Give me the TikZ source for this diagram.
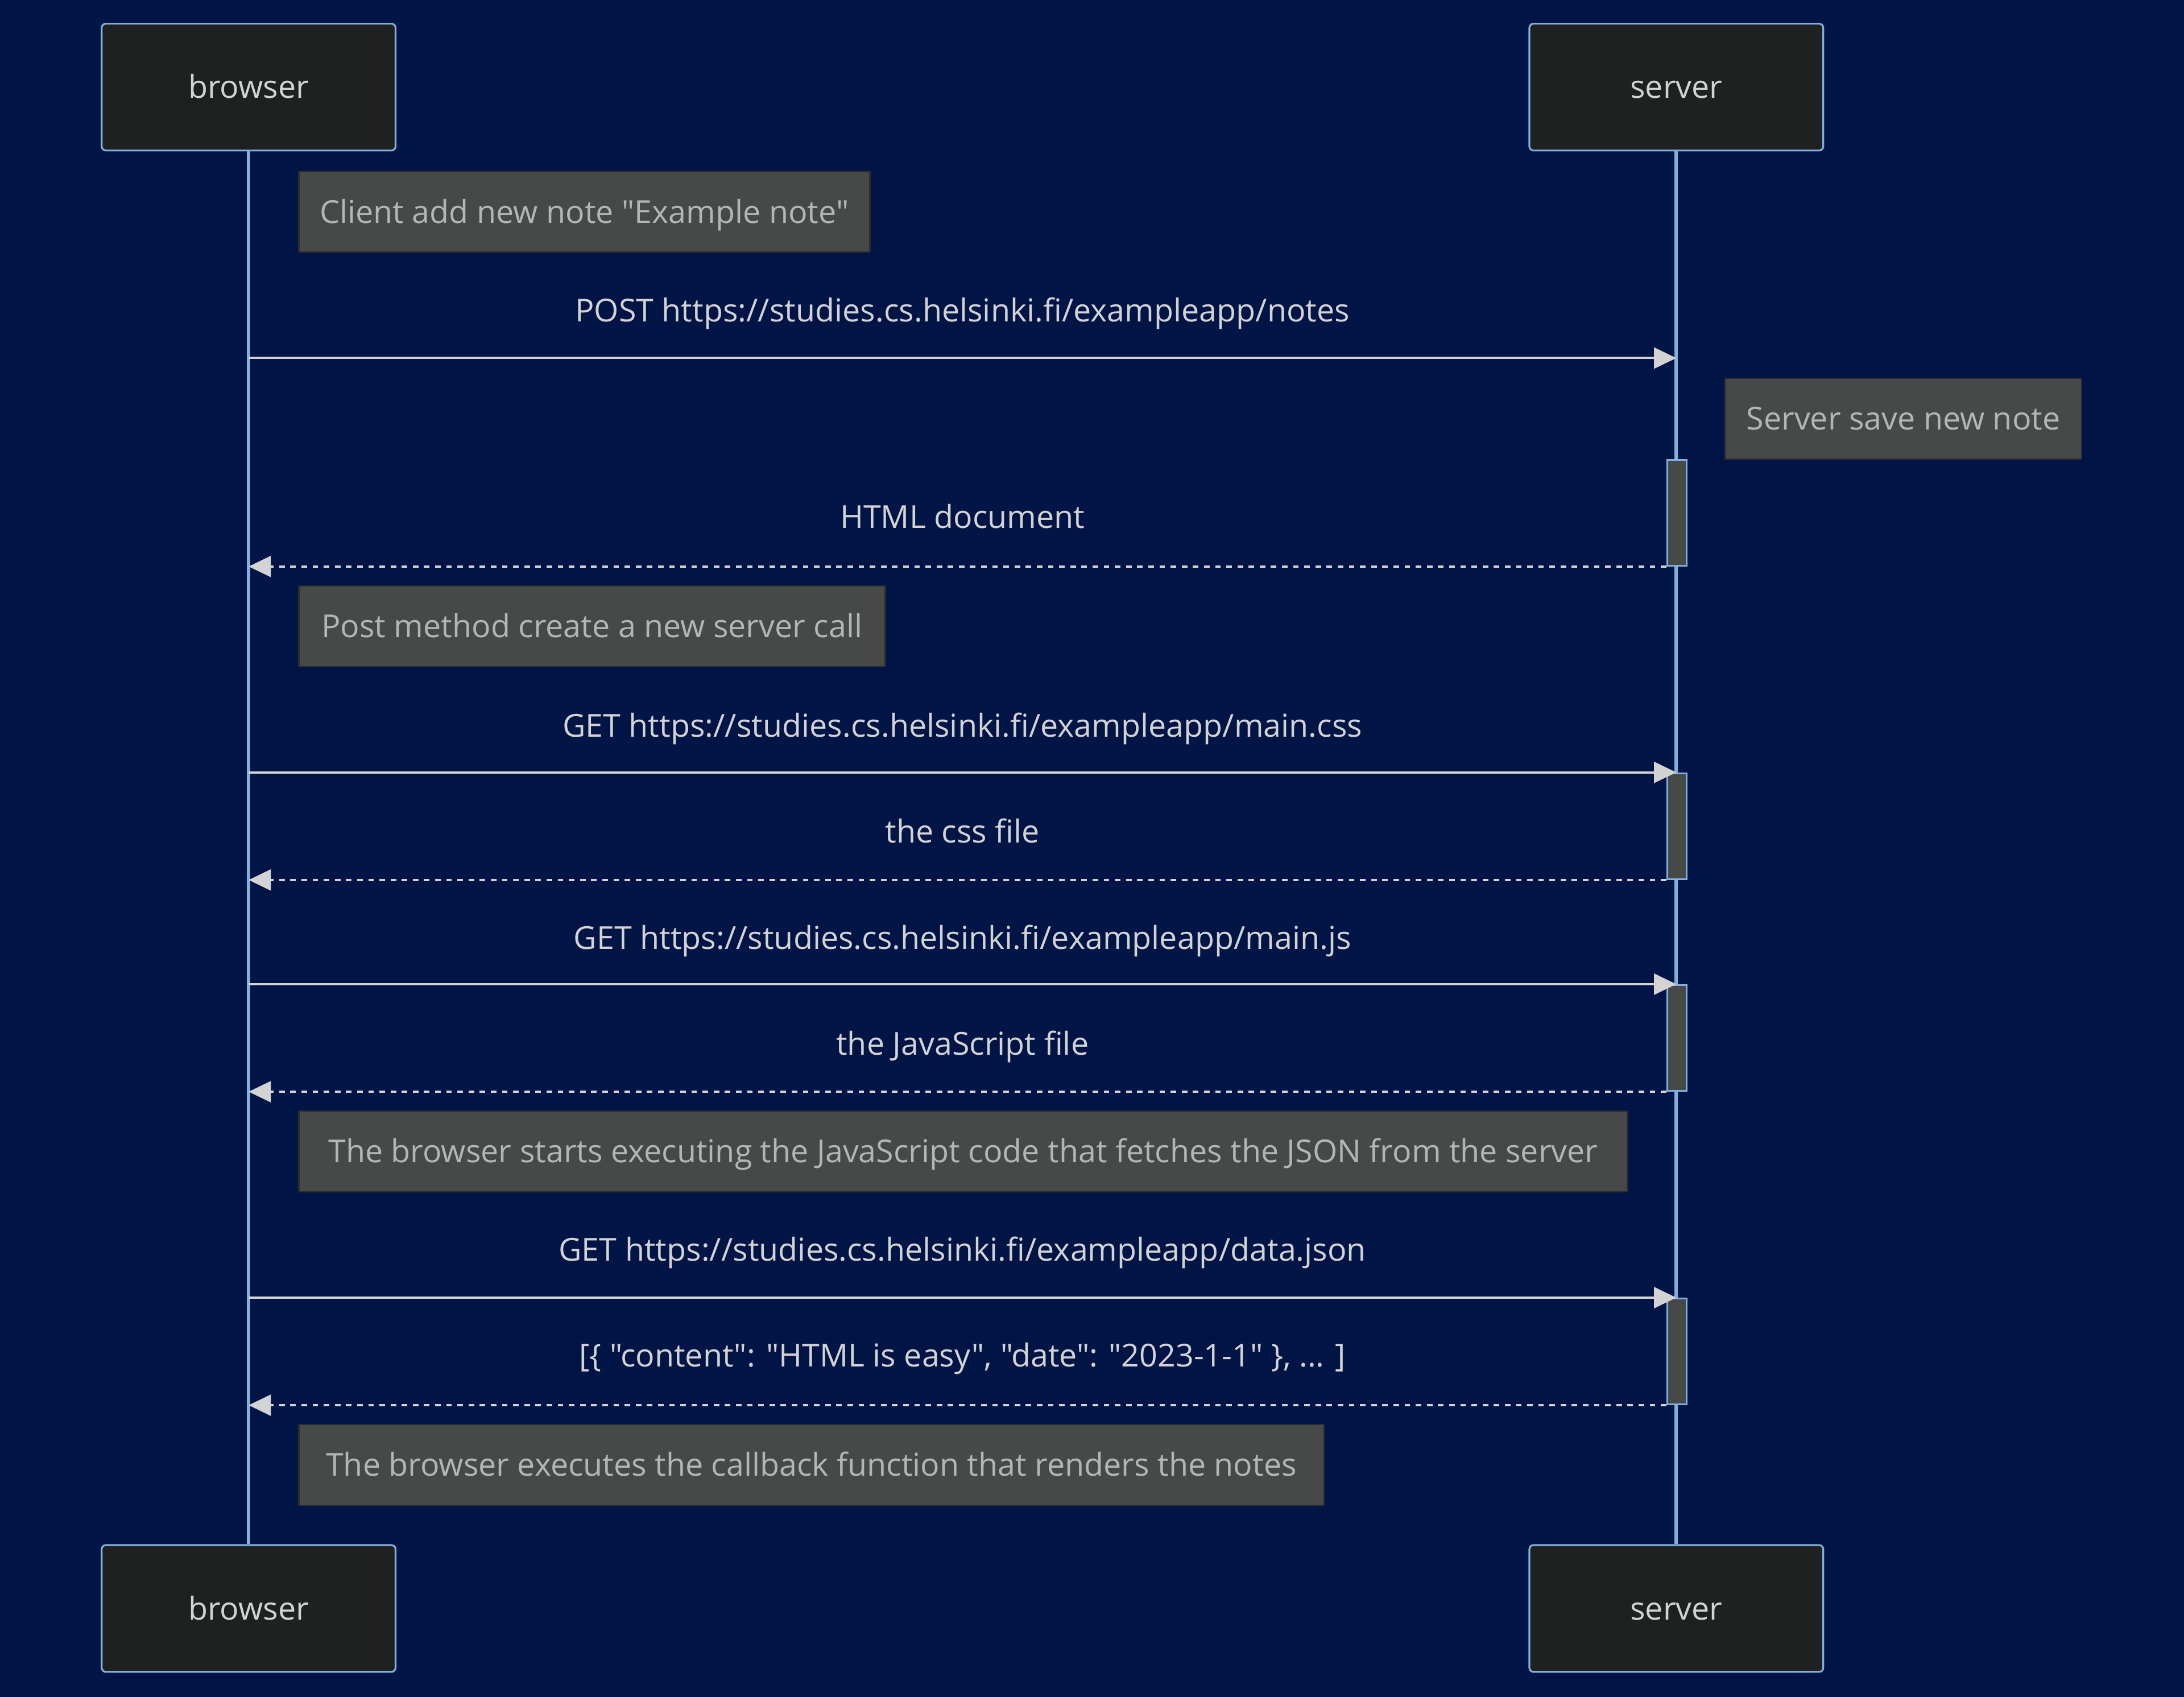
\documentclass[tikz,border=0pt]{standalone}
\usepackage{fontspec}
% keep straight double quotes as typed
\setmainfont{Open Sans}[Ligatures=TeXOff]
\usetikzlibrary{arrows.meta}
\definecolor{bg}{HTML}{001446}
\definecolor{actorfill}{HTML}{1F2020}
\definecolor{actorline}{HTML}{81B1DB}
\definecolor{notefill}{HTML}{474949}
\definecolor{noteline}{HTML}{2B2B2B}
\definecolor{notetext}{HTML}{B5B5B5}
\definecolor{signal}{HTML}{D3D3D3}
\begin{document}
\begin{tikzpicture}[x=1pt,y=-1pt,
  txt/.style={font=\fontsize{22.7}{27}\selectfont, text height=16.2pt, text depth=0pt},
  actor/.style={txt, draw=actorline, fill=actorfill, line width=1.3pt, rounded corners=3pt,
    minimum width=211pt, minimum height=91pt, inner sep=0pt, text=signal},
  note/.style={txt, draw=noteline, fill=notefill, line width=1pt, minimum height=58pt,
    inner sep=0pt, text=notetext, anchor=west},
  activation/.style={draw=actorline, fill=notefill, line width=1.2pt, minimum width=14pt,
    minimum height=76pt, inner sep=0pt},
  lifeline/.style={draw=actorline, line width=2.4pt},
  label/.style={txt, text=signal},
  msg/.style={draw=signal, line width=1.7pt, -{Triangle[length=16pt,width=15pt]}},
  reply/.style={msg, dash pattern=on 4pt off 4pt},
]
% canvas
\fill[bg] (0,0) rectangle (1568,1218);

% participants
\node[actor] (bt) at (178.5,62.5) {browser};
\node[actor] (st) at (1203.5,62.5) {server};
\node[actor] (bb) at (178.5,1154.5) {browser};
\node[actor] (sb) at (1203.5,1154.5) {server};

% lifelines
\draw[lifeline] (bt.south) -- (bb.north);
\draw[lifeline] (st.south) -- (sb.north);

% activations on the server
\node[activation] (a1) at (1204,368) {};
\node[activation] (a2) at (1204,593) {};
\node[activation] (a3) at (1204,745) {};
\node[activation] (a4) at (1204,970) {};

% notes
\node[note, minimum width=410pt] (n1) at (214,152) {Client add new note "Example note"};
\node[note, minimum width=256pt] (n2) at (1238,300.5) {Server save new note};
\node[note, minimum width=421pt] (n3) at (214,449.5) {Post method create a new server call};
\node[note, minimum width=954pt] (n4) at (214,826.5) {The browser starts executing the JavaScript code that fetches the JSON from the server};
\node[note, minimum width=736pt] (n5) at (214,1051.5) {The browser executes the callback function that renders the notes};

% messages
\coordinate (m1) at (691,257);
\node[label] (l1) at (691,223) {POST https://studies.cs.helsinki.fi/exampleapp/notes};
\draw[msg] (bt |- m1) -- (st |- m1);

\node[label] (l2) at (691,371) {HTML document};
\draw[reply] (a1.south west) -- (bt |- a1.south);

\node[label] (l3) at (691,521) {GET https://studies.cs.helsinki.fi/exampleapp/main.css};
\draw[msg] (bt |- a2.north) -- (st |- a2.north);
\node[label] (l4) at (691,597) {the css file};
\draw[reply] (a2.south west) -- (bt |- a2.south);

\node[label] (l5) at (691,673) {GET https://studies.cs.helsinki.fi/exampleapp/main.js};
\draw[msg] (bt |- a3.north) -- (st |- a3.north);
\node[label] (l6) at (691,749) {the JavaScript file};
\draw[reply] (a3.south west) -- (bt |- a3.south);

\node[label] (l7) at (691,897) {GET https://studies.cs.helsinki.fi/exampleapp/data.json};
\draw[msg] (bt |- a4.north) -- (st |- a4.north);
\node[label] (l8) at (691,973) {[\{ "content": "HTML is easy", "date": "2023-1-1" \}, ... ]};
\draw[reply] (a4.south west) -- (bt |- a4.south);
\end{tikzpicture}
\end{document}
